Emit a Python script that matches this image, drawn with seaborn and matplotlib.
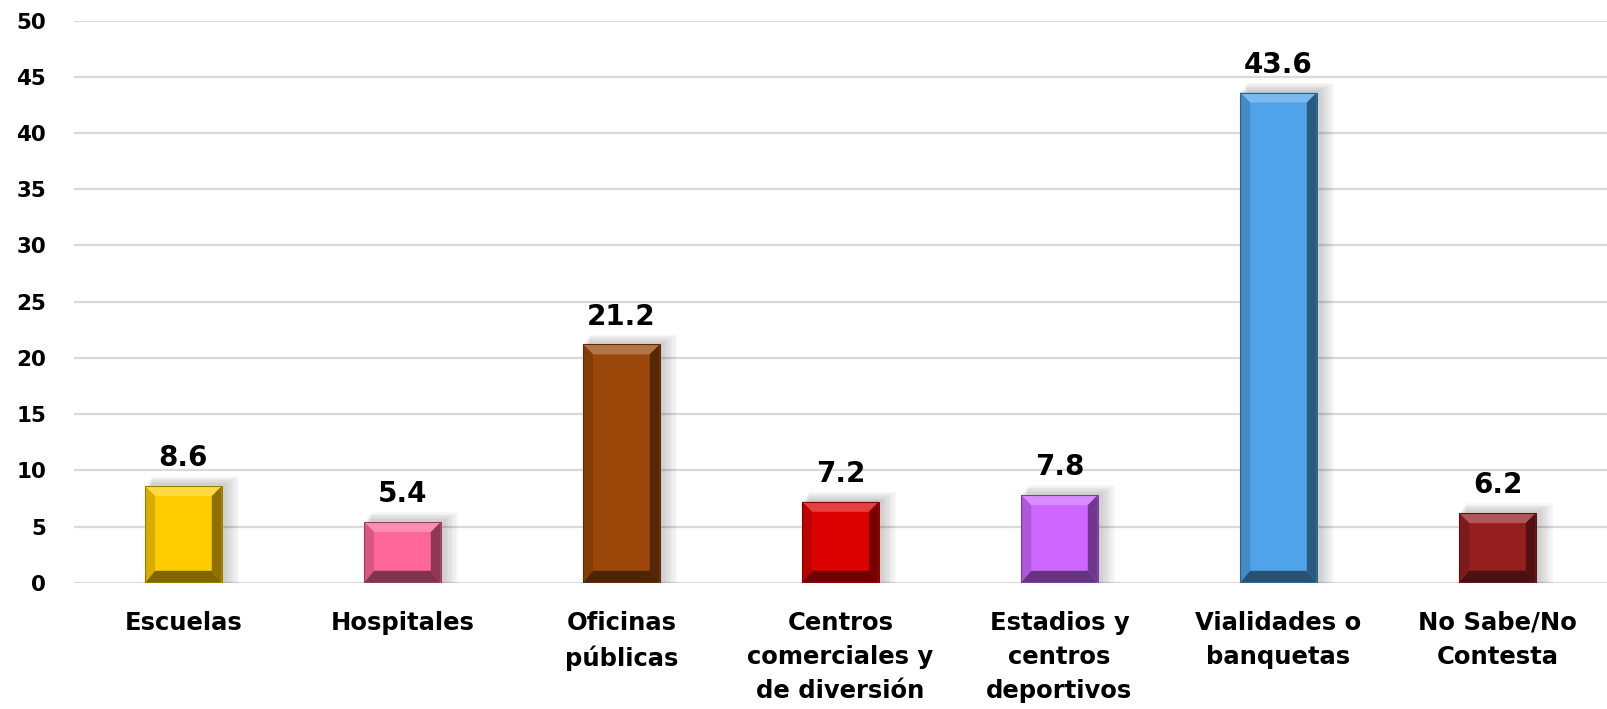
import matplotlib
matplotlib.use("Agg")
import matplotlib.pyplot as plt
import seaborn as sns
import numpy as np
import pandas as pd
from matplotlib.patches import Polygon, Rectangle
from matplotlib.colors import to_rgb

categories = ["Escuelas", "Hospitales", "Oficinas\npúblicas", "Centros\ncomerciales y\nde diversión",
              "Estadios y\ncentros\ndeportivos", "Vialidades o\nbanquetas", "No Sabe/No\nContesta"]
values = [8.6, 5.4, 21.2, 7.2, 7.8, 43.6, 6.2]
colors = ["#FFCC00", "#FF6699", "#9A4709", "#DD0000", "#CC66FF", "#4FA3E8", "#951F1F"]
yticks = [0, 5, 10, 15, 20, 25, 30, 35, 40, 45, 50]

sns.set_theme(style="white")
plt.rcParams['font.family'] = ['DejaVu Sans']

df = pd.DataFrame({"cat": categories, "val": values})
fig = plt.figure(figsize=(16.07, 7.09), dpi=100)
ax = fig.add_axes([0.046, 0.178, 0.954, 0.793])
sns.barplot(data=df, x="cat", y="val", hue="cat", palette=colors, legend=False,
            width=0.35, ax=ax, saturation=1, zorder=3)
ax.set_ylim(0, 50)
ax.set_xlim(-0.5, len(categories) - 0.5)
ax.set_yticks(yticks)
ax.set_yticklabels([str(t) for t in yticks], fontsize=15.5, fontweight='bold', color='black')
ax.set_xticks(range(len(categories)))
ax.set_xticklabels(categories, fontsize=17.5, fontweight='bold', linespacing=1.55, color='black')
ax.tick_params(axis='x', length=0, pad=20)
ax.tick_params(axis='y', length=0, pad=20)
ax.set_xlabel("")
ax.set_ylabel("")
for s in ax.spines.values():
    s.set_visible(False)
ax.yaxis.grid(True, color="#D9D9D9", linewidth=1.6, zorder=0)
ax.set_axisbelow(True)

# pixel -> data conversion
axw = 0.954 * 1607
axh = 0.793 * 709
px_x = (len(categories)) / axw
px_y = 50 / axh

def shade(c, f):
    r = np.array(to_rgb(c))
    if f >= 1:
        return tuple(r + (1 - r) * (f - 1))
    return tuple(r * f)

bev = 10
for p, c in zip(ax.patches, colors):
    x0, y0 = p.get_x(), p.get_y()
    w, h = p.get_width(), p.get_height()
    x1, y1 = x0 + w, y0 + h
    bx, by = bev * px_x, bev * px_y
    byb = 12 * px_y
    # shadow
    for k in range(7):
        ax.add_patch(Rectangle((x0 + (k + 1) * px_x, y0), w + (k + 1) * 1.5 * px_x, h + (k + 1) * 1.4 * px_y,
                               facecolor="black", alpha=0.03, edgecolor="none", zorder=2))
    polys = [
        ([(x0, y1), (x1, y1), (x1 - bx, y1 - by), (x0 + bx, y1 - by)], shade(c, 1.25)),
        ([(x0, y0), (x0, y1), (x0 + bx, y1 - by), (x0 + bx, y0 + byb)], shade(c, 0.85)),
        ([(x1, y0), (x1, y1), (x1 - bx, y1 - by), (x1 - bx, y0 + byb)], shade(c, 0.55)),
        ([(x0, y0), (x1, y0), (x1 - bx, y0 + byb), (x0 + bx, y0 + byb)], shade(c, 0.5)),
    ]
    for pts, col in polys:
        ax.add_patch(Polygon(pts, closed=True, facecolor=col, edgecolor="none", zorder=4))
    ax.add_patch(Rectangle((x0, y0), w, h, facecolor="none", edgecolor=shade(c, 0.6), linewidth=0.8, zorder=5))
    ax.annotate(f"{p.get_height():.1f}", (x0 + w / 2, y1), xytext=(0, 10), textcoords="offset points",
                ha="center", va="bottom", fontsize=20, fontweight='bold', color="black", zorder=6)

fig.savefig("out.png", dpi=100)
